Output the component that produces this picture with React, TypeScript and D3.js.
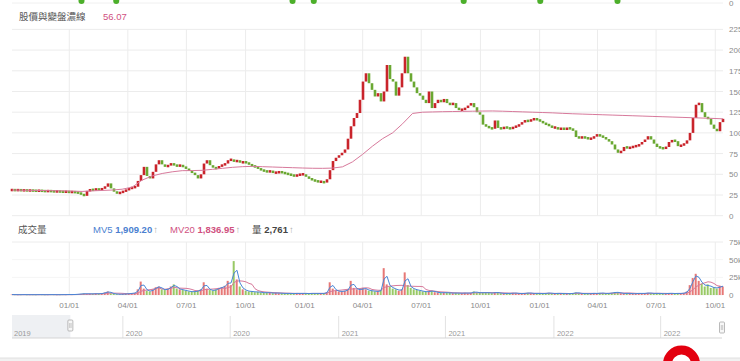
import React from 'react';
import * as d3 from 'd3';

const W = 740;
const H = 361;
const START = new Date(2019, 9, 4);
const END = new Date(2022, 9, 13);
const NAV_START = new Date(2019, 5, 27);
const NAV_END = new Date(2022, 9, 13);

const titleText = '股價與變盤濃線';
const titleValue = '56.07';
const volTitle = '成交量';
const mv5Value = '1,909.20';
const mv20Value = '1,836.95';
const volValue = '2,761';

const closes: number[] = [
  31.0, 30.8, 31.0, 30.6, 30.7, 30.4, 30.5, 30.2, 30.0, 30.3, 29.8, 29.6, 29.9, 29.5, 29.2, 29.4, 29.0, 28.8, 29.0, 28.5, 28.7, 28.2, 27.5, 26.0, 24.0,
  30, 31.5, 31, 32.5, 31, 33, 35, 39, 33, 29, 27, 28, 29.5, 31, 33, 34, 35, 42,
  49, 59, 48, 45, 53, 62, 67, 62, 59, 61, 63, 61, 60, 61, 59, 57, 54, 52, 49, 45,
  50, 63, 67, 61, 58, 57, 60, 61, 63, 67, 68, 65, 67, 64, 65, 64, 62,
  60, 59, 57, 55, 54, 53, 54, 52, 52, 53, 52, 51, 50, 49, 48, 49, 50, 50, 47, 45, 43, 42, 41, 41, 40, 44,
  55, 66, 70, 73, 76, 80, 93, 108, 118, 124, 140, 162, 172, 160, 152, 144, 148, 138, 150, 182, 165, 162, 145, 155, 172, 192, 172, 162, 155, 148, 145, 140, 136, 150, 130, 136, 140, 137, 141, 136, 134, 136, 130, 128, 128, 130, 133, 136, 131, 125, 122, 110, 108, 106, 105,
  115, 106, 105, 107, 106, 105, 107, 108, 110, 113, 115, 114, 116, 117, 116, 114, 112, 110, 109, 106, 107, 104, 106, 104, 106, 105, 103, 95, 94, 95, 94, 93, 93, 96, 98, 96, 95, 92, 90, 86, 80, 76, 78, 83, 82, 82, 84, 84, 86, 89, 92, 96, 92, 87, 83, 82, 81, 83, 89, 91, 90, 84, 85, 87, 91, 100, 118, 134, 136, 125, 119, 117, 110, 105, 102, 113, 117,
];

// volume in thousands, same sampling as closes
const volumes: number[] = [
  0.6, 0.5, 0.4, 0.5, 0.6, 0.4, 0.5, 0.5, 0.4, 0.6, 0.5, 0.4, 0.5, 0.6, 0.5, 0.4, 0.5, 0.6, 0.5, 0.7, 0.6, 0.8, 1.2, 1.5, 2.0,
  1.5, 1.8, 1.5, 2, 1.5, 2.5, 3.5, 5, 2.5, 1.5, 1.2, 1.0, 1.3, 1.5, 2, 2.5, 3, 8,
  19, 9, 6, 5, 8, 11, 12, 8, 7, 9, 12, 15, 9, 8, 7, 6, 5, 4.5, 5, 6,
  8, 18, 9, 7, 6, 8, 10, 11, 13, 20, 14, 48, 22, 12, 8, 6, 5,
  5, 4, 4.5, 3.5, 3, 3.5, 3, 2.5, 3, 2.5, 2.5, 2, 2.5, 2, 2, 2.5, 2, 2.5, 2, 2, 2.5, 2, 2.5, 2, 2.5, 4,
  18, 9, 6, 5, 5, 6, 8, 20, 10, 8, 7, 10, 8, 6, 6, 5, 5, 7, 38, 15, 12, 9, 8, 6, 8, 32, 14, 10, 8, 7, 6, 5, 4.5, 5, 6, 4, 3.5, 3, 3.5, 3, 3, 2.5, 3, 2.5, 2.5, 3, 2.5, 3, 5, 3, 3.5, 3, 3.5, 3, 2.5,
  4, 3, 2.5, 2, 2.5, 2, 3, 2.5, 2, 2, 2.5, 3, 2.5, 2, 2.5, 2, 2, 2.5, 3, 2, 2, 2.5, 2, 2, 1.8, 2, 2.5, 3.5, 2.5, 2, 2, 1.8, 2, 2.5, 2, 3, 2.5, 2, 2.5, 3, 4, 3.5, 2.5, 2, 2.5, 2, 1.8, 2, 2.5, 2, 2.5, 3, 2.5, 2, 2.5, 2, 1.8, 2, 2.5, 2.2, 2, 2.5, 2, 3, 5, 14, 24, 30, 20, 16, 12, 15, 10, 11, 9, 13, 12,
];

// long moving line (pink), sampled evenly over the window
const maValues: number[] = [
  31, 30.8, 30.6, 30.4, 30.2, 30, 29.7, 29.3, 30, 30.5,
  31, 32, 34.5, 43, 48, 51, 53, 54.4, 54.5, 54.8,
  56, 57.2, 58.4, 59.2, 59.6, 59.2, 58.8, 58.4, 58, 57.6,
  57.3, 57.2, 57.5, 59, 65, 74, 84, 93, 100, 111,
  123.5, 125, 125.3, 125.6, 125.8, 126, 126.2, 126.4, 126.5, 126.2,
  125.8, 125.4, 125, 124.6, 124.2, 123.6, 123.1, 122.7, 122.3, 121.9,
  121.5, 121.1, 120.7, 120.3, 119.9, 119.5, 119.1, 118.7, 118.3, 117.9,
  117.5, 117,
];

const priceTicks = [0, 25, 50, 75, 100, 125, 150, 175, 200, 225];
const volTicks = [0, 25, 50, 75];
const signalDates = ['2020-01-20', '2020-03-14', '2020-12-13', '2021-01-15', '2021-09-05', '2022-01-02', '2022-05-02'];

const FONT = "'Liberation Sans', 'Noto Sans CJK TC', sans-serif";
const UP = '#c9242b';
const DOWN = '#6aa832';

function dateAt(i: number, n: number) {
  return new Date(START.getTime() + (i / (n - 1)) * (END.getTime() - START.getTime()));
}

function rolling(arr: number[], w: number) {
  return arr.map((_, i) => d3.mean(arr.slice(Math.max(0, i - w + 1), i + 1)) as number);
}

export default function App() {
  const n = closes.length;
  const x = d3.scaleTime().domain([START, END]).range([12, 723]);
  const y = d3.scaleLinear().domain([0, 225]).range([215.7, 29.4]);
  const yv = d3.scaleLinear().domain([0, 75]).range([295, 242]);
  const xn = d3.scaleTime().domain([NAV_START, NAV_END]).range([12, 722]);

  const candles = closes.map((c, i) => {
    const o = i === 0 ? c : closes[i - 1];
    return { date: dateAt(i, n), o, c, v: volumes[i] ?? 0, up: c >= o };
  });
  const bw = 2.6;

  const maLine = d3
    .line<number>()
    .x((_, i) => x(dateAt(i, maValues.length)))
    .y((d) => y(d));

  const mv5 = rolling(volumes, 2);
  const mv20 = rolling(volumes, 7);
  const volLine = d3
    .line<number>()
    .x((_, i) => x(dateAt(i, n)))
    .y((d) => yv(d));

  const qTicks = x.ticks(d3.timeMonth.every(3) as d3.TimeInterval);
  const fmt = d3.timeFormat('%m/%d');
  const halfYears = xn
    .ticks(d3.timeMonth.every(6) as d3.TimeInterval)
    .filter((d) => d.getFullYear() >= 2020);
  const yearFmt = d3.timeFormat('%Y');

  const grid = '#ececec';
  const axisText = '#8a8a8a';

  return (
    <div style={{ position: 'absolute', left: 0, top: 0 }}>
      <svg width={W} height={H} style={{ display: 'block', background: '#fff' }} fontFamily={FONT}>
        {/* partial indicator above */}
        <line x1={12} x2={723} y1={3} y2={3} stroke="#f0f0f0" />
        <text x={729} y={6} fontSize={8} fill={axisText}>0</text>
        {signalDates.map((s) => {
          const cx = x(new Date(s));
          return <rect key={s} x={cx - 3} y={-6} width={6} height={10} rx={3} fill="#4caf2a" />;
        })}

        {/* title */}
        <text x={19} y={19.5} fontSize={9.5} fill="#555">{titleText}</text>
        <text x={103} y={19.5} fontSize={9.5} fill="#d0517f">{titleValue}</text>

        {/* main grid */}
        {priceTicks.map((t) => (
          <g key={t}>
            <line x1={12} x2={723} y1={y(t)} y2={y(t)} stroke={grid} />
            <text x={729} y={y(t) + 3} fontSize={8} fill={axisText}>{t}</text>
          </g>
        ))}
        {qTicks.map((d) => (
          <g key={+d}>
            <line x1={x(d)} x2={x(d)} y1={29} y2={215.7} stroke={grid} />
            <line x1={x(d)} x2={x(d)} y1={242} y2={295} stroke={grid} />
            <text x={x(d)} y={308} fontSize={8} fill={axisText} textAnchor="middle">{fmt(d)}</text>
          </g>
        ))}

        {/* candles */}
        {candles.map((k, i) => {
          const h = Math.max(2.5, Math.abs(y(k.o) - y(k.c)));
          const mid = (y(k.o) + y(k.c)) / 2;
          return (
            <rect key={i} x={x(k.date) - bw / 2} y={mid - h / 2} width={bw} height={h} fill={k.up ? UP : DOWN} />
          );
        })}
        <path d={maLine(maValues) || ''} fill="none" stroke="#d7799b" strokeWidth={1} />

        {/* volume legend */}
        <text x={18} y={232.5} fontSize={9.5} fill="#555">{volTitle}</text>
        <text x={93} y={232.5} fontSize={9.5} fill="#4a7fd0">
          MV5 <tspan fontWeight="bold">{mv5Value}</tspan>
          <tspan fill="#aaa" dx={1}>↑</tspan>
        </text>
        <text x={170} y={232.5} fontSize={9.5} fill="#d0517f">
          MV20 <tspan fontWeight="bold">{mv20Value}</tspan>
          <tspan fill="#aaa" dx={1}>↑</tspan>
        </text>
        <text x={252} y={232.5} fontSize={9.5} fill="#444">
          量 <tspan fontWeight="bold">{volValue}</tspan>
          <tspan fill="#aaa" dx={1}>↑</tspan>
        </text>

        {/* volume grid */}
        {volTicks.map((t) => (
          <g key={t}>
            <line x1={12} x2={723} y1={yv(t)} y2={yv(t)} stroke={t === 75 ? grid : '#f5f5f5'} />
            <text x={729} y={yv(t) + 3} fontSize={8} fill={axisText}>{t === 0 ? '0' : `${t}k`}</text>
          </g>
        ))}
        {candles.map((k, i) => (
          <rect
            key={i}
            x={x(k.date) - bw / 2}
            y={yv(k.v)}
            width={bw - 0.6}
            height={Math.max(0.5, yv(0) - yv(k.v))}
            fill={k.up ? '#e2605e' : '#86bf4a'}
            opacity={0.85}
          />
        ))}
        <path d={volLine(mv20) || ''} fill="none" stroke="#d7799b" strokeWidth={1} />
        <path d={volLine(mv5) || ''} fill="none" stroke="#4a86d6" strokeWidth={1} />

        {/* navigator */}
        <rect x={12} y={315} width={xn(START) - 12} height={23} fill="#eef0f3" />
        {halfYears.map((d) => (
          <line key={+d} x1={xn(d)} x2={xn(d)} y1={316} y2={338} stroke="#e2e2e2" />
        ))}
        <text x={14} y={336} fontSize={7.5} fill="#999">{yearFmt(NAV_START)}</text>
        {halfYears.map((d) => (
          <text key={'t' + +d} x={xn(d) + 3} y={336} fontSize={7.5} fill="#999">{yearFmt(d)}</text>
        ))}
        <line x1={12} x2={722} y1={338} y2={338} stroke="#d5d5d5" />
        <rect x={xn(START) - 2.5} y={320} width={5} height={11} rx={1} fill="#f7f7f7" stroke="#aaa" strokeWidth={0.8} />
        <line x1={xn(START) - 0.7} x2={xn(START) - 0.7} y1={323} y2={328} stroke="#aaa" strokeWidth={0.6} />
        <line x1={xn(START) + 0.7} x2={xn(START) + 0.7} y1={323} y2={328} stroke="#aaa" strokeWidth={0.6} />
        <rect x={xn(END) - 2.5} y={322} width={5} height={11} rx={1} fill="#f7f7f7" stroke="#aaa" strokeWidth={0.8} />
        <line x1={xn(END) - 0.7} x2={xn(END) - 0.7} y1={325} y2={330} stroke="#aaa" strokeWidth={0.6} />
        <line x1={xn(END) + 0.7} x2={xn(END) + 0.7} y1={325} y2={330} stroke="#aaa" strokeWidth={0.6} />

        {/* bottom band and floating button */}
        <rect x={0} y={358} width={W} height={3} fill="#f1f1f1" />
        <line x1={0} x2={W} y1={358} y2={358} stroke="#e0e0e0" />
        <circle cx={681.5} cy={364} r={14} fill="#fff" stroke="#e3000f" strokeWidth={9} />
      </svg>
    </div>
  );
}
